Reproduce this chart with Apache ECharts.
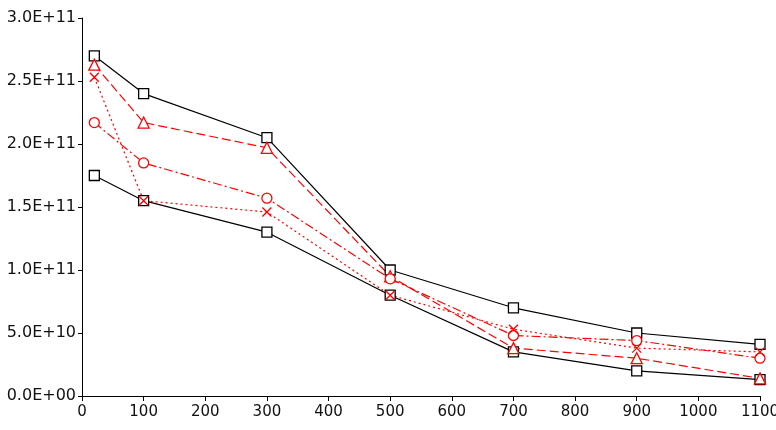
<!DOCTYPE html>
<html>
<head>
<meta charset="utf-8">
<script src="https://cdn.jsdelivr.net/npm/echarts@6/dist/echarts.min.js"></script>
<style>
html, body { margin: 0; background: #fff; }
#chart { width: 776px; height: 430px; }
</style>
</head>
<body>
<div id="chart"></div>
<script>
// data
const xValues = [20, 100, 300, 500, 700, 900, 1100];
const upperSquares = [2.70e11, 2.40e11, 2.05e11, 1.00e11, 7.0e10, 5.0e10, 4.1e10];
const lowerSquares = [1.75e11, 1.55e11, 1.30e11, 8.0e10, 3.5e10, 2.0e10, 1.3e10];
const triangles = [2.63e11, 2.17e11, 1.97e11, 9.5e10, 3.8e10, 3.0e10, 1.4e10];
const circles = [2.17e11, 1.85e11, 1.57e11, 9.3e10, 4.8e10, 4.4e10, 3.0e10];
const crosses = [2.53e11, 1.55e11, 1.46e11, 8.0e10, 5.3e10, 3.8e10, 3.5e10];

const RED = '#ff0000';
const FONT = 'DejaVu Sans';

function sci (v) {
    if (v === 0) return '0.0E+00';
    const e = Math.floor(Math.log10(v) + 1e-9);
    const m = v / Math.pow(10, e);
    return m.toFixed(1) + 'E+' + String(e).padStart(2, '0');
}

function pairs (ys) {
    return xValues.map((x, i) => [x, ys[i]]);
}

function makeSeries (ys, color, symbol, symbolSize, dash, fill) {
    return {
        type: 'line',
        data: pairs(ys),
        symbol: symbol,
        symbolSize: symbolSize,
        showAllSymbol: true,
        lineStyle: { color: color, width: 1.2, type: dash },
        itemStyle: { color: fill, borderColor: color, borderWidth: 1.3 },
        emphasis: { disabled: true }
    }
}

const chart = echarts.init(document.getElementById('chart'));
chart.setOption({
    animation: false,
    backgroundColor: '#fff',
    grid: { left: 82, right: 16, top: 18, bottom: 34, containLabel: false, outerBoundsMode: 'none' },
    xAxis: {
        type: 'value',
        min: 0,
        max: 1100,
        interval: 100,
        axisLine: { show: true, lineStyle: { color: '#000', width: 1 } },
        axisTick: { show: true, length: 5, lineStyle: { color: '#000' } },
        axisLabel: { color: '#111', fontFamily: FONT, fontSize: 15, margin: 9, showMaxLabel: true, formatter: v => String(v) },
        splitLine: { show: false }
    },
    yAxis: {
        type: 'value',
        min: 0,
        max: 3e11,
        interval: 5e10,
        axisLine: { show: true, lineStyle: { color: '#000', width: 1 } },
        axisTick: { show: true, length: 4, lineStyle: { color: '#000' } },
        axisLabel: { color: '#111', fontFamily: FONT, fontSize: 16, margin: 6, formatter: sci },
        splitLine: { show: false }
    },
    series: [
        makeSeries(upperSquares, '#000', 'rect', 10, 'solid', '#fff'),
        makeSeries(lowerSquares, '#000', 'rect', 10, 'solid', '#fff'),
        makeSeries(triangles, RED, 'triangle', 11, [9, 4], '#fff'),
        makeSeries(circles, RED, 'circle', 10, [9, 3, 2, 3], '#fff'),
        makeSeries(crosses, RED, 'path://M0,0L10,10M10,0L0,10', 9, [2, 3], 'rgba(0,0,0,0)')
    ]
});
</script>
</body>
</html>
